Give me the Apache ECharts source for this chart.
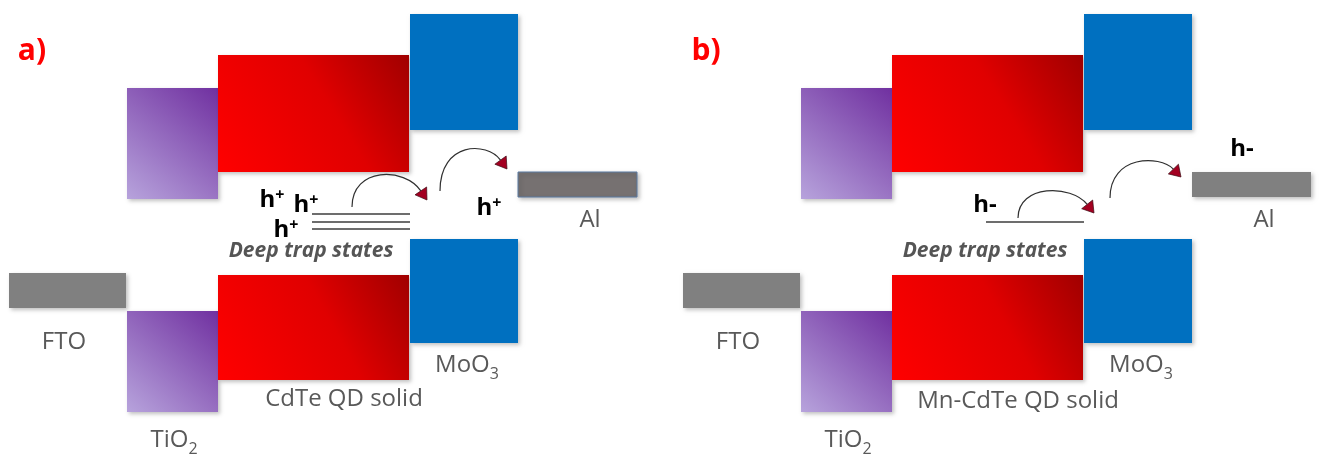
<!DOCTYPE html>
<html>
<head>
<meta charset="utf-8">
<script src="https://cdn.jsdelivr.net/npm/echarts@6/dist/echarts.min.js"></script>
<style>
  html, body { margin: 0; padding: 0; background: #ffffff; }
  #chart { width: 1319px; height: 458px; }
</style>
</head>
<body>
<div id="chart"></div>
<script>
// ---- Band levels (diagram units, counted downward from the top edge) ----
const layers        = ['FTO', 'TiO2', 'CdTe', 'MoO3', 'Al'];
const cbTop         = [null,  88,  55,  14, null];
const cbBottom      = [null, 199, 172, 130, null];
const vbTop         = [null, 311, 275, 239, null];
const vbBottom      = [null, 412, 380, 343, null];
const contactTop    = [273, null, null, null, 172];
const contactBottom = [308, null, null, null, 197];

// Deep trap levels inside the QD gap
const trapLevelsA = [214, 222, 229];
const trapLevelsB = [222];

// Hole hops: [startX, startLevel, peakLevel, endX, endLevel]
const hopsA = [[352, 207, 176, 427, 200], [440, 191, 151, 507, 169]];
const hopsB = [[344, 218, 192, 420, 213], [436, 198, 163, 507, 177]];

// Text annotations per panel
const panelTags   = ['a)', 'b)'];
const qdNames     = ['CdTe QD solid', 'Mn-CdTe QD solid'];
const carrierTags = [['h+', 'h+', 'h+', 'h+'], ['h-', 'h-']];

// ---- Layout ----
const panelOffset = [0, 674];
const columnSpan  = [[9, 126], [127, 218], [218, 409], [410, 518], [518, 637]];
const trapSpan    = [312, 410];
const layerLabelSpot = [[64, 342], [174, 440], [344, 399], [467, 365], [590, 220]];
const qdLabelLevel = [399, 401];
const tagSpot = [32, 51];
const trapLabelSpot = [311, 251];
const carrierSpots = [
  [[272, 200], [306, 205], [286, 230], [489, 208]],
  [[311, 205], [568, 149]]
];

const G = echarts.graphic;
const GREY_TEXT = '#595959';
const FONT = '"Open Sans", "Liberation Sans", sans-serif';

function layerFill(layerIdx, panel) {
  switch (layers[layerIdx]) {
    case 'TiO2':
      return new G.LinearGradient(1, 0, 0, 1, [
        { offset: 0, color: '#7030a0' },
        { offset: 1, color: '#b7a3dc' }
      ]);
    case 'CdTe':
      return new G.LinearGradient(1, 0, 0, 1, [
        { offset: 0, color: '#a00000' },
        { offset: 0.42, color: '#e00000' },
        { offset: 1, color: '#ff0000' }
      ]);
    case 'MoO3': return '#0070c0';
    case 'Al': return panel === 0 ? '#767171' : '#808080';
    default: return '#808080';
  }
}

// ---- Build block table ----
const blocks = [];
panelOffset.forEach((off, p) => {
  layers.forEach((name, i) => {
    const x0 = columnSpan[i][0] + off, x1 = columnSpan[i][1] + off;
    if (cbTop[i] != null) blocks.push({ p, i, v: [x0, cbTop[i], x1, cbBottom[i]] });
    if (vbTop[i] != null) blocks.push({ p, i, v: [x0, vbTop[i], x1, vbBottom[i]] });
    if (contactTop[i] != null) blocks.push({ p, i, v: [x0, contactTop[i], x1, contactBottom[i]] });
  });
});

// ---- Trap lines ----
const traps = [];
[trapLevelsA, trapLevelsB].forEach((levels, p) => {
  levels.forEach(lv => traps.push([trapSpan[0] + panelOffset[p], lv, trapSpan[1] + panelOffset[p]]));
});

// ---- Hops ----
const hops = [];
[hopsA, hopsB].forEach((list, p) => {
  list.forEach(h => hops.push([h[0] + panelOffset[p], h[1], h[2], h[3] + panelOffset[p], h[4]]));
});

// ---- Texts ----
const texts = [];
const labelRich = {
  m: { fontSize: 24, fontFamily: FONT, fill: GREY_TEXT, lineHeight: 34 },
  s: { fontSize: 16, fontFamily: FONT, fill: GREY_TEXT, lineHeight: 18, verticalAlign: 'bottom' }
};
const carrierRich = {
  h: { fontSize: 24, fontWeight: 'bold', fontFamily: FONT, fill: '#000000', lineHeight: 26 },
  p: { fontSize: 16, fontWeight: 'bold', fontFamily: FONT, fill: '#000000', lineHeight: 14, verticalAlign: 'top' }
};
function layerLabel(i, p) {
  if (layers[i] === 'TiO2') return '{m|TiO}{s|2}';
  if (layers[i] === 'MoO3') return '{m|MoO}{s|3}';
  if (layers[i] === 'CdTe') return '{m|' + qdNames[p] + '}';
  return '{m|' + layers[i] + '}';
}
panelOffset.forEach((off, p) => {
  texts.push({ v: [tagSpot[0] + off, tagSpot[1]], text: panelTags[p],
    font: 'bold 30px ' + FONT, fill: '#ff0000' });
  layers.forEach((name, i) => {
    const spot = layerLabelSpot[i];
    const y = name === 'CdTe' ? qdLabelLevel[p] : spot[1];
    texts.push({ v: [spot[0] + off, y], text: layerLabel(i, p), rich: labelRich,
      font: '24px ' + FONT, fill: GREY_TEXT });
  });
  texts.push({ v: [trapLabelSpot[0] + off, trapLabelSpot[1]], text: 'Deep trap states',
    font: 'italic bold 21px ' + FONT, fill: '#555555' });
  carrierTags[p].forEach((tag, k) => {
    const s = carrierSpots[p][k];
    const t = tag === 'h+' ? '{h|h}{p|+}' : '{h|h-}';
    texts.push({ v: [s[0] + off, s[1]], text: t, rich: carrierRich,
      font: 'bold 24px ' + FONT, fill: '#000000' });
  });
});

const chart = echarts.init(document.getElementById('chart'));
chart.setOption({
  animation: false,
  backgroundColor: '#ffffff',
  grid: { left: 0, top: 0, right: 0, bottom: 0 },
  xAxis: { type: 'value', min: 0, max: 1319, show: false },
  yAxis: { type: 'value', min: 0, max: 458, inverse: true, show: false },
  series: [
    {
      type: 'custom',
      silent: true,
      data: blocks.map(b => b.v),
      renderItem(params, api) {
        const b = blocks[params.dataIndex];
        const a = api.coord([api.value(0), api.value(1)]);
        const c = api.coord([api.value(2), api.value(3)]);
        const isAlA = layers[b.i] === 'Al' && b.p === 0;
        return {
          type: 'rect',
          shape: { x: a[0], y: a[1], width: c[0] - a[0], height: c[1] - a[1] },
          style: {
            fill: layerFill(b.i, b.p),
            stroke: isAlA ? '#5a7aa2' : null,
            lineWidth: isAlA ? 1 : 0,
            shadowBlur: 4,
            shadowOffsetX: 2,
            shadowOffsetY: 2,
            shadowColor: 'rgba(0,0,0,0.25)'
          }
        };
      }
    },
    {
      type: 'custom',
      silent: true,
      data: traps,
      renderItem(params, api) {
        const a = api.coord([api.value(0), api.value(1)]);
        const c = api.coord([api.value(2), api.value(1)]);
        return {
          type: 'line',
          shape: { x1: a[0], y1: a[1], x2: c[0], y2: c[1] },
          style: { stroke: '#3d3d3d', lineWidth: 1.3 }
        };
      }
    },
    {
      type: 'custom',
      silent: true,
      data: hops,
      renderItem(params, api) {
        const s = api.coord([api.value(0), api.value(1)]);
        const tip = api.coord([api.value(3), api.value(4)]);
        const peak = api.coord([api.value(0), api.value(2)])[1];
        const avgY = (s[1] + tip[1]) / 2;
        const cy = (peak - 0.25 * avgY) / 0.75;
        const dx = tip[0] - s[0];
        const p1 = [s[0], cy];
        const p2 = [tip[0] - 0.3 * dx, cy];
        let ux = tip[0] - p2[0], uy = tip[1] - p2[1];
        const len = Math.hypot(ux, uy); ux /= len; uy /= len;
        const headLen = 11, halfW = 7;
        const base = [tip[0] - ux * headLen, tip[1] - uy * headLen];
        const left = [base[0] - uy * halfW, base[1] + ux * halfW];
        const right = [base[0] + uy * halfW, base[1] - ux * halfW];
        return {
          type: 'group',
          children: [
            {
              type: 'bezierCurve',
              shape: { x1: s[0], y1: s[1], cpx1: p1[0], cpy1: p1[1], cpx2: p2[0], cpy2: p2[1], x2: base[0], y2: base[1] },
              style: { stroke: '#303030', lineWidth: 1.2, fill: null }
            },
            {
              type: 'polygon',
              shape: { points: [tip, left, right] },
              style: { fill: '#a30021', stroke: '#3b0a12', lineWidth: 0.7 }
            }
          ]
        };
      }
    },
    {
      type: 'custom',
      silent: true,
      data: texts.map(t => t.v),
      renderItem(params, api) {
        const t = texts[params.dataIndex];
        const pt = api.coord([api.value(0), api.value(1)]);
        const style = {
          text: t.text,
          x: 0, y: 0,
          font: t.font,
          fill: t.fill,
          align: 'center',
          verticalAlign: 'middle',
          textAlign: 'center',
          textVerticalAlign: 'middle'
        };
        if (t.rich) style.rich = t.rich;
        return { type: 'text', x: pt[0], y: pt[1], style };
      }
    }
  ]
});
</script>
</body>
</html>
